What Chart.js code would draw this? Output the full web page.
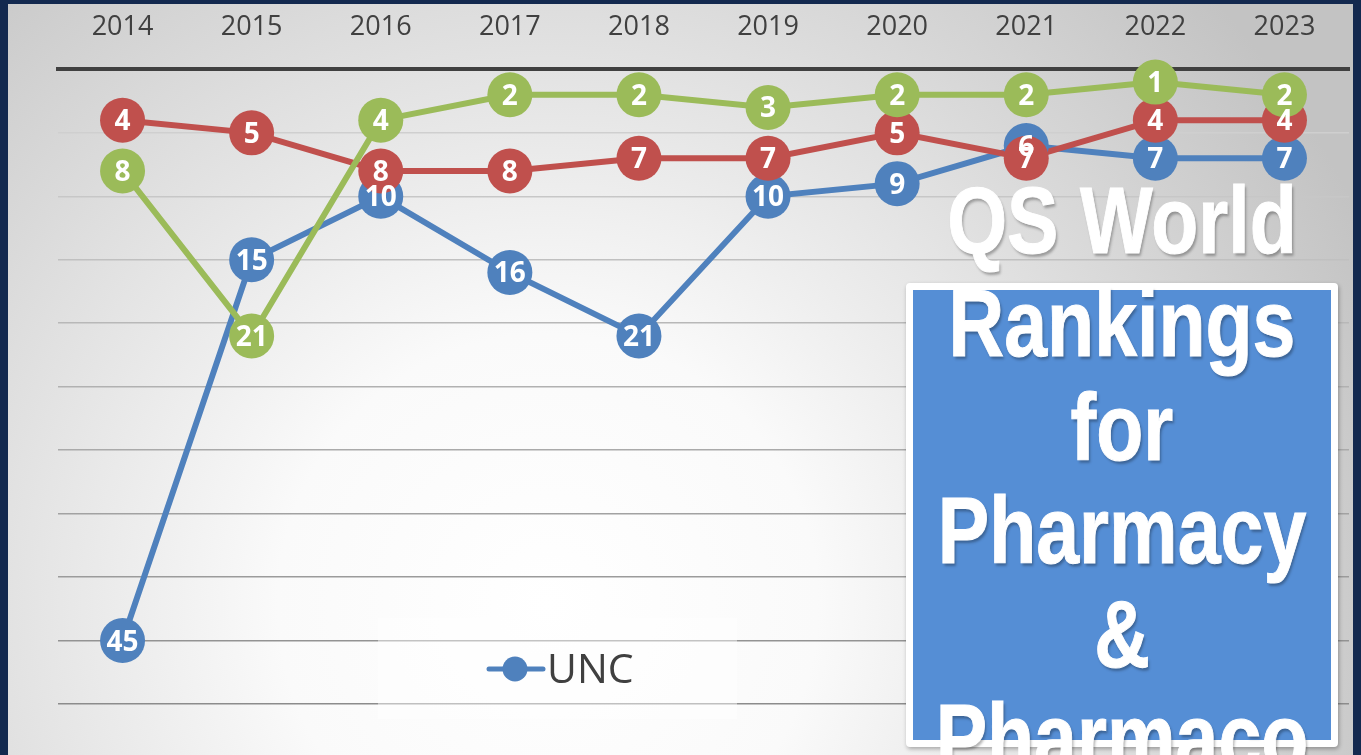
<!DOCTYPE html>
<html><head><meta charset="utf-8">
<script src="https://cdn.jsdelivr.net/npm/chart.js@4.4.0/dist/chart.umd.min.js"></script>
<style>
html,body{margin:0;padding:0;width:1361px;height:755px;overflow:hidden;background:#13294f;}
#panel{position:absolute;left:8px;top:4px;width:1345px;height:760px;background:radial-gradient(circle 900px at 540px 600px,#ffffff 0%,#fafafa 30%,#c3c3c3 100%);}
#c{position:absolute;left:0;top:0;}
#box{position:absolute;left:906px;top:283px;width:432px;height:464px;box-sizing:border-box;background:#558ed5;border:7px solid #fff;border-radius:4px;box-shadow:1px 2px 4px rgba(0,0,0,0.3);}
#title{position:absolute;left:721.5px;top:168.7px;width:800px;}
.ln{height:103.5px;line-height:103.5px;text-align:center;white-space:nowrap;font-family:"Liberation Sans",Arial,sans-serif;font-weight:bold;font-size:94px;color:#fff;transform:scaleX(0.82);text-shadow:2px 3px 3px rgba(0,0,0,0.3);-webkit-text-stroke:1px #fff;}
</style>
</head>
<body>
<div id="panel"></div>
<canvas id="c" width="1361" height="755"></canvas>
<div id="box"></div>
<div id="title">
<div class="ln">QS World</div>
<div class="ln">Rankings</div>
<div class="ln">for</div>
<div class="ln">Pharmacy</div>
<div class="ln">&amp;</div>
<div class="ln">Pharmaco</div>
</div>
<script>
// ---- data ----
const years = ['2014','2015','2016','2017','2018','2019','2020','2021','2022','2023'];
const uncRank = [45, 15, 10, 16, 21, 10, 9, 6, 7, 7];
const series2Rank = [4, 5, 8, 8, 7, 7, 5, 7, 4, 4];
const series3Rank = [8, 21, 4, 2, 2, 3, 2, 2, 1, 2];
const seriesNames = ['UNC', 'Series 2', 'Series 3'];
const rankAxisMin = 0;
const rankAxisMax = 50;
const rankAxisStep = 5;

// ---- styles ----
const seriesColors = ['#4F81BD', '#C0504D', '#9BBB59'];
const ranks = [uncRank, series2Rank, series3Rank];

const datasets = [];
ranks.forEach((d, i) => datasets.push({
  label: seriesNames[i], data: d, borderColor: seriesColors[i], backgroundColor: seriesColors[i],
  borderWidth: 6, pointRadius: 0, pointHoverRadius: 0, fill: false, tension: 0,
  order: 6 - i, clip: false, kind: 'line'
}));
ranks.forEach((d, i) => datasets.push({
  label: seriesNames[i], data: d, borderColor: seriesColors[i], backgroundColor: seriesColors[i],
  showLine: false, pointRadius: 22.5, pointHoverRadius: 22.5, pointBorderWidth: 0,
  pointBackgroundColor: seriesColors[i], order: 3 - i, clip: false, kind: 'pt'
}));

const labelPlugin = {
  id: 'ptLabels',
  afterDatasetsDraw(chart) {
    const ctx = chart.ctx;
    ctx.save();
    ctx.font = 'bold 28px "Open Sans"';
    ctx.fillStyle = '#ffffff';
    ctx.textAlign = 'center';
    ctx.textBaseline = 'alphabetic';
    chart.data.datasets.forEach((ds, di) => {
      if (ds.kind !== 'pt') return;
      const meta = chart.getDatasetMeta(di);
      meta.data.forEach((pt, j) => {
        ctx.fillText(String(ds.data[j]), pt.x, pt.y + 10);
      });
    });
    ctx.restore();
  }
};

const legendPlugin = {
  id: 'uncLegend',
  afterDraw(chart) {
    const ctx = chart.ctx;
    ctx.save();
    ctx.fillStyle = 'rgba(255,255,255,0.45)';
    ctx.fillRect(378, 618, 359, 101);
    ctx.strokeStyle = seriesColors[0];
    ctx.lineWidth = 5;
    ctx.lineCap = 'round';
    ctx.beginPath(); ctx.moveTo(489, 669); ctx.lineTo(543, 669); ctx.stroke();
    ctx.fillStyle = seriesColors[0];
    ctx.beginPath(); ctx.arc(515, 669, 12.5, 0, Math.PI * 2); ctx.fill();
    ctx.fillStyle = '#404040';
    ctx.font = '41px "Open Sans"';
    ctx.textAlign = 'left';
    ctx.textBaseline = 'alphabetic';
    ctx.fillText(seriesNames[0], 547, 683);
    ctx.restore();
  }
};

new Chart(document.getElementById('c'), {
  type: 'line',
  data: { labels: years, datasets: datasets },
  options: {
    responsive: false,
    animation: false,
    events: [],
    layout: { autoPadding: false, padding: { top: -15, left: 58, right: 12, bottom: 51 } },
    plugins: { legend: { display: false }, tooltip: { enabled: false } },
    scales: {
      x: {
        type: 'category', position: 'top', offset: true,
        grid: { display: false, drawTicks: false },
        border: { display: true, color: '#404040', width: 4 },
        ticks: { color: '#404040', font: { family: 'Open Sans', size: 27 }, padding: 26, maxRotation: 0 },
        afterFit: (s) => { s.paddingLeft = 0; s.paddingRight = 0; }
      },
      y: {
        reverse: true, min: rankAxisMin, max: rankAxisMax,
        ticks: { display: false, stepSize: rankAxisStep },
        border: { display: false },
        grid: {
          drawTicks: false, lineWidth: 1.5,
          color: (c) => {
            const v = c.tick.value;
            if (v === rankAxisMin) return 'rgba(0,0,0,0)';
            const g = Math.round(214 - (v / rankAxisMax) * (214 - 140));
            return 'rgb(' + g + ',' + g + ',' + g + ')';
          }
        }
      }
    }
  },
  plugins: [labelPlugin, legendPlugin]
});
</script>
</body></html>
